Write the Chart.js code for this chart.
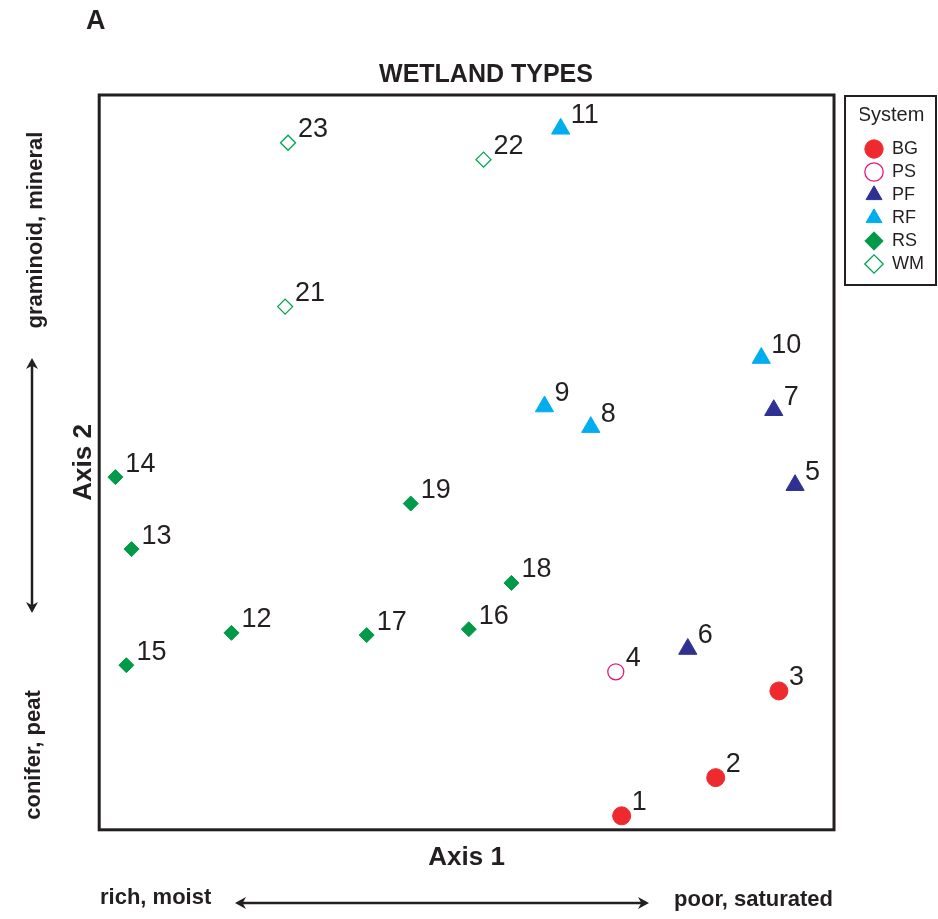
<!DOCTYPE html>
<html>
<head>
<meta charset="utf-8">
<title>Wetland types</title>
<script src="https://cdn.jsdelivr.net/npm/chart.js@4.4.1/dist/chart.umd.min.js"></script>
<style>
  html, body { margin: 0; padding: 0; background: #fff; }
  #wrap { width: 938px; height: 919px; }
</style>
</head>
<body>
<div id="wrap"><canvas id="wetlandChart"></canvas></div>
<script>
// Ordination scores (axis 1 = x, axis 2 = y, both on a 0-100 frame)
const bgSites = [1, 2, 3];
const bgAxis1 = [71.1, 83.9, 92.5];
const bgAxis2 = [1.9, 7.1, 18.9];

const psSites = [4];
const psAxis1 = [70.3];
const psAxis2 = [21.5];

const pfSites = [5, 6, 7];
const pfAxis1 = [94.7, 80.1, 91.8];
const pfAxis2 = [46.9, 24.6, 57.1];

const rfSites = [8, 9, 10, 11];
const rfAxis1 = [66.9, 60.6, 90.1, 62.8];
const rfAxis2 = [54.8, 57.6, 64.2, 95.4];

const rsSites = [12, 13, 14, 15, 16, 17, 18, 19];
const rsAxis1 = [18.0, 4.4, 2.2, 3.7, 50.3, 36.4, 56.1, 42.4];
const rsAxis2 = [26.8, 38.2, 48.0, 22.4, 27.3, 26.5, 33.6, 44.4];

const wmSites = [21, 22, 23];
const wmAxis1 = [25.3, 52.3, 25.7];
const wmAxis2 = [71.2, 91.2, 93.5];

const INK = "#231f20";
const FONT = "'Liberation Sans', Arial, sans-serif";

// zip two score lists into {x, y} points
function toPoints(xs, ys) {
  return xs.map((x, i) => ({ x: x, y: ys[i] }));
}

// numbers next to every site
const siteLabels = {
  id: "siteLabels",
  afterDatasetsDraw(chart) {
    const ctx = chart.ctx;
    ctx.save();
    ctx.font = "27px " + FONT;
    ctx.fillStyle = INK;
    ctx.textAlign = "left";
    ctx.textBaseline = "middle";
    chart.data.datasets.forEach((ds, i) => {
      chart.getDatasetMeta(i).data.forEach((pt, j) => {
        ctx.fillText(String(ds.sites[j]), pt.x + 10, pt.y - 13);
      });
    });
    ctx.restore();
  }
};

function arrow(ctx, x1, y1, x2, y2) {
  const ang = Math.atan2(y2 - y1, x2 - x1);
  const head = 11, half = 6;
  ctx.beginPath();
  ctx.moveTo(x1 + Math.cos(ang) * 6, y1 + Math.sin(ang) * 6);
  ctx.lineTo(x2 - Math.cos(ang) * 6, y2 - Math.sin(ang) * 6);
  ctx.stroke();
  [[x1, y1, ang + Math.PI], [x2, y2, ang]].forEach(([x, y, a]) => {
    ctx.beginPath();
    ctx.moveTo(x, y);
    ctx.lineTo(x - Math.cos(a) * head - Math.sin(a) * half, y - Math.sin(a) * head + Math.cos(a) * half);
    ctx.lineTo(x - Math.cos(a) * head * 0.7, y - Math.sin(a) * head * 0.7);
    ctx.lineTo(x - Math.cos(a) * head + Math.sin(a) * half, y - Math.sin(a) * head - Math.cos(a) * half);
    ctx.closePath();
    ctx.fill();
  });
}

// frame, legend box, panel letter and gradient notes
const decorations = {
  id: "decorations",
  afterLayout(chart) {
    // move the legend next to the plot frame, top aligned with it
    const lg = chart.legend;
    const area = chart.chartArea;
    lg.left = area.right + 26;
    lg.width = 62;
    lg.right = 936;
    lg.top = area.top;
    lg.height = 190;
    lg.bottom = area.top + 190;
  },
  afterDraw(chart) {
    const ctx = chart.ctx;
    const a = chart.chartArea;
    ctx.save();
    ctx.strokeStyle = INK;
    ctx.fillStyle = INK;
    ctx.lineWidth = 3;
    ctx.strokeRect(a.left, a.top, a.right - a.left, a.bottom - a.top);

    ctx.lineWidth = 2;
    ctx.strokeRect(a.right + 11, a.top + 1, 925 - a.right, 189);

    ctx.font = "bold 27px " + FONT;
    ctx.textAlign = "left";
    ctx.textBaseline = "middle";
    ctx.fillText("A", 86, 22);

    ctx.font = "bold 22px " + FONT;
    ctx.fillText("rich, moist", 100, 898);
    ctx.textAlign = "right";
    ctx.fillText("poor, saturated", 833, 900);

    ctx.textAlign = "center";
    ctx.save();
    ctx.translate(36, 230);
    ctx.rotate(-Math.PI / 2);
    ctx.fillText("graminoid, mineral", 0, 0);
    ctx.restore();
    ctx.save();
    ctx.translate(34, 755);
    ctx.rotate(-Math.PI / 2);
    ctx.fillText("conifer, peat", 0, 0);
    ctx.restore();

    ctx.lineWidth = 2.5;
    arrow(ctx, 32, 358, 32, 613);
    arrow(ctx, 235, 903, 649, 903);
    ctx.restore();
  }
};

const ctx = document.getElementById("wetlandChart").getContext("2d");

new Chart(ctx, {
  type: "scatter",
  data: {
    datasets: [
      {
        label: "BG", sites: bgSites, data: toPoints(bgAxis1, bgAxis2),
        pointStyle: "circle", pointRadius: 9, pointHoverRadius: 9,
        backgroundColor: "#ee2a2e", borderColor: "#ee2a2e", borderWidth: 1
      },
      {
        label: "PS", sites: psSites, data: toPoints(psAxis1, psAxis2),
        pointStyle: "circle", pointRadius: 8, pointHoverRadius: 8,
        backgroundColor: "#ffffff", borderColor: "#e5187e", borderWidth: 1.3
      },
      {
        label: "PF", sites: pfSites, data: toPoints(pfAxis1, pfAxis2),
        pointStyle: "triangle", pointRadius: 10.5, pointHoverRadius: 10.5,
        backgroundColor: "#2e3192", borderColor: "#2e3192", borderWidth: 1
      },
      {
        label: "RF", sites: rfSites, data: toPoints(rfAxis1, rfAxis2),
        pointStyle: "triangle", pointRadius: 10.5, pointHoverRadius: 10.5,
        backgroundColor: "#00aeef", borderColor: "#00aeef", borderWidth: 1
      },
      {
        label: "RS", sites: rsSites, data: toPoints(rsAxis1, rsAxis2),
        pointStyle: "rectRot", pointRadius: 7.5, pointHoverRadius: 7.5,
        backgroundColor: "#009a49", borderColor: "#009a49", borderWidth: 1
      },
      {
        label: "WM", sites: wmSites, data: toPoints(wmAxis1, wmAxis2),
        pointStyle: "rectRot", pointRadius: 7.5, pointHoverRadius: 7.5,
        backgroundColor: "#ffffff", borderColor: "#00a651", borderWidth: 1.3
      }
    ]
  },
  options: {
    responsive: true,
    maintainAspectRatio: false,
    animation: false,
    layout: { padding: { left: 64, right: 30, top: 0, bottom: 42 } },
    scales: {
      x: {
        type: "linear", min: 0, max: 100,
        grid: { display: false, drawTicks: false },
        border: { display: false },
        ticks: { display: false },
        title: {
          display: true, text: "Axis 1", color: INK,
          font: { family: FONT, size: 26, weight: "bold" },
          padding: { top: 12, bottom: 4 }
        }
      },
      y: {
        type: "linear", min: 0, max: 100,
        grid: { display: false, drawTicks: false },
        border: { display: false },
        ticks: { display: false },
        title: {
          display: true, text: "Axis 2", color: INK,
          font: { family: FONT, size: 26, weight: "bold" },
          padding: { top: 4, bottom: 0 }
        }
      }
    },
    plugins: {
      title: {
        display: true, text: "WETLAND TYPES", color: INK,
        font: { family: FONT, size: 25, weight: "bold" },
        padding: { top: 60, bottom: 5 }
      },
      legend: {
        position: "right",
        align: "start",
        title: {
          display: true, text: "System", color: INK,
          font: { family: FONT, size: 20 },
          padding: { top: 10, bottom: 6 }
        },
        labels: {
          usePointStyle: true,
          boxHeight: 13,
          padding: 5,
          color: INK,
          font: { family: FONT, size: 18 }
        }
      },
      tooltip: { enabled: false }
    }
  },
  plugins: [siteLabels, decorations]
});
</script>
</body>
</html>
